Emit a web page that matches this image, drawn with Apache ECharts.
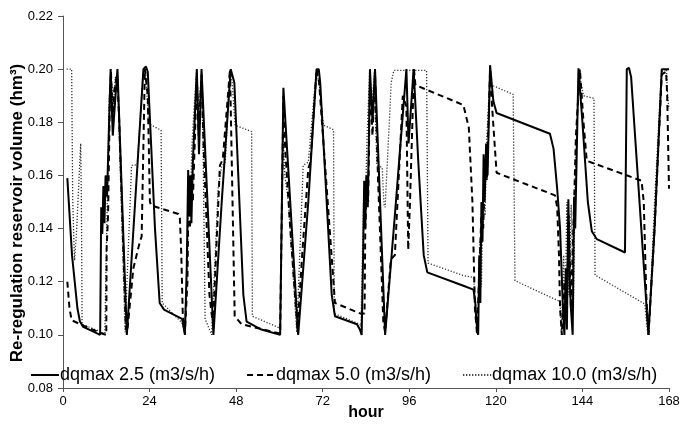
<!DOCTYPE html>
<html>
<head>
<meta charset="utf-8">
<script src="https://cdn.jsdelivr.net/npm/echarts@6/dist/echarts.min.js"></script>
<style>html,body{margin:0;padding:0;background:#fff}#c{width:681px;height:428px}</style>
</head>
<body>
<div id="c"></div>
<script>
// ---- data (hour, volume hm3) ----
const xTicks = [0, 24, 48, 72, 96, 120, 144, 168];
const yTicks = [0.08, 0.10, 0.12, 0.14, 0.16, 0.18, 0.20, 0.22];
const seriesNames = ['dqmax 2.5 (m3/s/h)', 'dqmax 5.0 (m3/s/h)', 'dqmax 10.0 (m3/s/h)'];

const solidHours = [1.2,2.5,4.0,4.7,5.6,8.0,10.3,10.6,10.9,11.2,11.5,11.8,12.2,13.2,13.8,14.3,15.1,17.7,20.0,22.3,23.0,23.5,25.5,26.8,28.0,33.0,33.4,33.8,34.3,34.7,35.0,35.3,35.6,36.0,37.1,37.7,38.4,41.7,44.0,46.5,47.0,47.5,50.0,50.9,55.0,60.2,61.1,65.2,68.0,70.3,70.9,71.3,74.5,75.4,81.5,82.3,82.8,83.2,83.5,83.8,84.1,84.5,85.1,85.8,86.5,89.3,92.0,95.2,95.8,97.2,98.5,100.0,101.0,111.0,113.8,114.3,114.6,115.1,115.4,115.7,116.0,116.3,116.6,116.9,117.3,117.7,118.4,119.3,120.2,135.0,136.0,137.0,137.8,138.6,139.0,139.4,139.7,140.1,140.5,140.8,141.3,141.7,142.0,142.9,144.0,145.5,146.6,148.0,155.8,156.3,156.9,157.5,162.3,164.0,166.0,168.0];
const solidVals = [0.159,0.130,0.110,0.105,0.103,0.1015,0.100,0.148,0.138,0.156,0.142,0.160,0.152,0.200,0.175,0.185,0.200,0.100,0.150,0.200,0.201,0.199,0.140,0.112,0.1095,0.106,0.103,0.100,0.125,0.162,0.145,0.160,0.142,0.165,0.200,0.168,0.200,0.100,0.150,0.200,0.200,0.195,0.115,0.105,0.102,0.100,0.193,0.100,0.150,0.200,0.200,0.195,0.115,0.107,0.104,0.102,0.100,0.130,0.158,0.140,0.160,0.148,0.200,0.180,0.200,0.100,0.145,0.200,0.172,0.200,0.165,0.130,0.1235,0.1185,0.117,0.112,0.105,0.100,0.130,0.112,0.150,0.135,0.168,0.150,0.172,0.160,0.2015,0.188,0.1835,0.1757,0.170,0.155,0.140,0.110,0.100,0.125,0.102,0.151,0.120,0.110,0.100,0.152,0.140,0.2003,0.180,0.150,0.139,0.136,0.131,0.200,0.2005,0.197,0.100,0.140,0.200,0.200];

const dashHours = [1.2,1.8,2.4,5.6,11.2,12.0,12.1,12.5,13.0,13.3,13.8,14.2,15.0,15.6,17.4,17.8,19.5,21.3,21.8,22.7,23.5,24.1,24.5,32.0,32.4,32.8,33.2,33.8,34.5,34.8,35.2,35.6,36.0,37.1,37.6,38.4,39.0,40.6,41.2,41.6,43.5,44.3,46.3,47.0,47.6,49.5,60.2,61.1,61.6,63.0,65.0,66.3,68.0,68.6,70.3,71.0,75.4,82.5,83.6,83.8,84.2,84.6,85.1,85.8,86.5,87.3,88.8,89.3,90.8,91.3,92.0,94.2,95.2,95.7,96.2,97.3,97.7,111.0,111.5,112.5,113.5,114.2,114.8,115.5,116.0,116.5,117.0,117.5,118.4,119.0,120.2,136.4,137.0,137.5,137.8,138.3,139.0,139.6,140.2,140.8,141.5,142.2,143.3,144.3,145.2,160.4,161.0,161.7,162.3,164.0,166.0,167.2,167.5,168.0];
const dashVals = [0.120,0.110,0.1055,0.1035,0.1003,0.100,0.1325,0.145,0.190,0.199,0.180,0.192,0.198,0.180,0.103,0.101,0.125,0.135,0.137,0.200,0.190,0.150,0.1487,0.1455,0.144,0.130,0.108,0.101,0.120,0.155,0.140,0.160,0.150,0.197,0.175,0.198,0.170,0.115,0.108,0.104,0.1638,0.166,0.200,0.150,0.107,0.104,0.1005,0.190,0.170,0.140,0.102,0.130,0.1625,0.165,0.200,0.195,0.112,0.108,0.108,0.140,0.155,0.150,0.195,0.175,0.198,0.160,0.105,0.101,0.127,0.129,0.130,0.190,0.186,0.132,0.150,0.200,0.194,0.1865,0.186,0.178,0.150,0.110,0.100,0.128,0.145,0.140,0.165,0.158,0.200,0.185,0.161,0.1525,0.148,0.130,0.110,0.100,0.120,0.105,0.145,0.110,0.140,0.175,0.200,0.180,0.1655,0.158,0.150,0.115,0.100,0.140,0.198,0.199,0.190,0.155];

const dotHours = [1.0,2.4,2.7,3.2,3.8,4.9,5.1,5.3,11.6,12.0,12.4,12.8,13.3,13.9,14.5,15.2,15.7,17.2,19.0,20.6,22.2,22.9,23.7,27.2,27.5,33.0,33.7,34.5,34.9,35.3,35.7,36.2,37.0,37.7,38.3,38.8,39.4,41.2,43.0,44.0,45.0,46.2,46.9,47.7,52.3,52.5,60.2,61.0,61.5,62.5,64.8,66.6,68.0,70.2,71.0,72.2,75.0,75.2,82.3,82.6,83.0,83.4,83.8,84.3,85.0,85.6,86.3,87.0,88.5,89.0,89.3,91.0,91.7,100.8,101.2,111.0,113.8,114.5,115.0,115.6,116.0,116.5,117.0,117.5,118.4,118.8,124.8,125.3,137.8,138.2,138.8,139.2,139.7,140.3,140.9,141.5,142.0,143.0,144.3,147.2,147.5,161.3,162.0,162.4,164.0,165.9,167.3,167.6,168.0];
const dotVals = [0.200,0.200,0.150,0.128,0.140,0.172,0.150,0.104,0.1005,0.100,0.160,0.188,0.200,0.185,0.197,0.195,0.170,0.101,0.1638,0.164,0.199,0.200,0.1795,0.177,0.112,0.1045,0.101,0.130,0.160,0.145,0.170,0.182,0.199,0.185,0.197,0.175,0.106,0.100,0.155,0.1635,0.165,0.199,0.195,0.1789,0.1765,0.107,0.1025,0.175,0.160,0.150,0.101,0.1638,0.165,0.199,0.195,0.1789,0.1772,0.108,0.104,0.103,0.130,0.155,0.145,0.175,0.199,0.185,0.199,0.1638,0.163,0.149,0.148,0.195,0.1995,0.1995,0.127,0.1223,0.1216,0.110,0.100,0.135,0.118,0.155,0.145,0.175,0.198,0.194,0.1905,0.1204,0.1125,0.100,0.130,0.108,0.150,0.115,0.149,0.110,0.160,0.199,0.190,0.189,0.1225,0.1116,0.102,0.100,0.150,0.199,0.200,0.190,0.185];

const pairs = (xs, ys) => xs.map((x, i) => [x, ys[i]]);
const FONT = 'Liberation Sans, Arial, sans-serif';

const chart = echarts.init(document.getElementById('c'), null, {renderer: 'canvas'});
chart.setOption({
  animation: false,
  backgroundColor: '#fff',
  grid: {left: 63, right: 12, top: 16, bottom: 40, containLabel: false, outerBoundsMode: 'none'},
  legend: {
    left: 25, top: 361,
    itemWidth: 28, itemHeight: 14, itemGap: 31,
    itemStyle: {opacity: 0},
    textStyle: {fontFamily: FONT, fontSize: 18, color: '#000', padding: [0, 0, 0, -4]},
    data: seriesNames
  },
  xAxis: {
    type: 'value', min: xTicks[0], max: xTicks[xTicks.length - 1], interval: 24,
    name: 'hour', nameLocation: 'middle', nameGap: 17, nameMoveOverlap: false,
    nameTextStyle: {fontFamily: FONT, fontSize: 16, fontWeight: 'bold', color: '#000'},
    axisLine: {lineStyle: {color: '#555', width: 1}},
    axisTick: {show: true, length: 4, lineStyle: {color: '#555'}},
    axisLabel: {fontFamily: FONT, fontSize: 13, color: '#000', margin: 7},
    splitLine: {show: false}
  },
  yAxis: {
    type: 'value', min: yTicks[0], max: yTicks[yTicks.length - 1], interval: 0.02,
    name: 'Re-regulation reservoir volume (hm³)', nameLocation: 'middle', nameGap: 37, nameMoveOverlap: false,
    nameTextStyle: {fontFamily: FONT, fontSize: 17, fontWeight: 'bold', color: '#000', padding: [0, 22, 0, 0]},
    axisLine: {show: true, lineStyle: {color: '#555', width: 1}},
    axisTick: {show: true, length: 5, lineStyle: {color: '#555'}},
    axisLabel: {fontFamily: FONT, fontSize: 13, color: '#000', margin: 10,
      formatter: v => v.toFixed(2)},
    splitLine: {show: false}
  },
  series: [
    {name: seriesNames[0], type: 'line', z: 4, symbol: 'none', data: pairs(solidHours, solidVals),
     lineStyle: {color: '#000', width: 2, type: 'solid'}, itemStyle: {color: '#000'}},
    {name: seriesNames[1], type: 'line', z: 3, symbol: 'none', data: pairs(dashHours, dashVals),
     lineStyle: {color: '#000', width: 2, type: [6, 4]}, itemStyle: {color: '#000'}},
    {name: seriesNames[2], type: 'line', z: 2, symbol: 'none', data: pairs(dotHours, dotVals),
     lineStyle: {color: '#333', width: 1.3, type: [1.2, 1.8]}, itemStyle: {color: '#333'}}
  ]
});
</script>
</body>
</html>
